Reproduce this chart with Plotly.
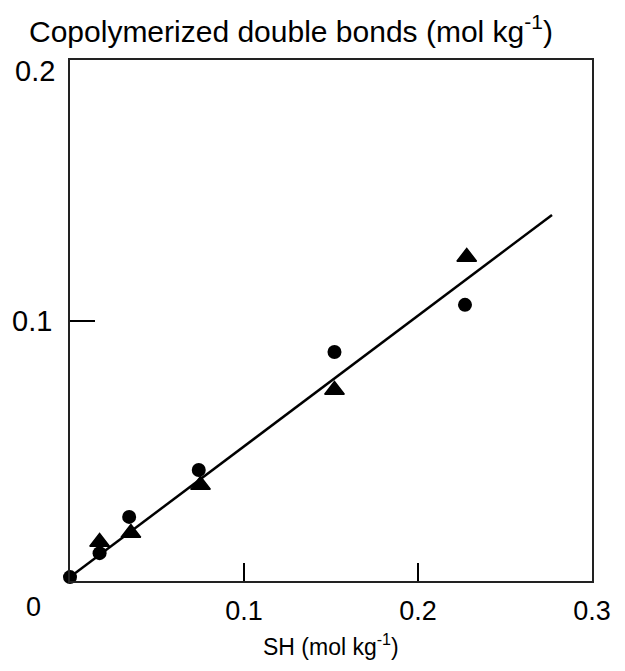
import plotly.graph_objects as go

# Thiol content (SH) and copolymerized double bonds, mol/kg
sh_circles = [0.0, 0.017, 0.034, 0.074, 0.152, 0.227]
db_circles = [0.0015, 0.0107, 0.0246, 0.0426, 0.0879, 0.1060]

sh_triangles = [0.017, 0.035, 0.075, 0.152, 0.228]
db_triangles = [0.0150, 0.0184, 0.0369, 0.0733, 0.1244]

# Fitted straight line
sh_fit = [0.0, 0.277]
db_fit = [0.0015, 0.1405]

x_ticks = [0.1, 0.2, 0.3]
x_tick_text = ["0.1", "0.2", "0.3"]
y_ticks = [0.1]
y_tick_text = ["0.1"]

FONT = "Liberation Sans, Arial, sans-serif"

fig = go.Figure()

fig.add_trace(go.Scatter(
    x=sh_fit, y=db_fit, mode="lines",
    line=dict(color="black", width=2.5),
    showlegend=False, cliponaxis=False,
))
fig.add_trace(go.Scatter(
    x=sh_circles, y=db_circles, mode="markers",
    marker=dict(symbol="circle", size=14, color="black"),
    showlegend=False, cliponaxis=False,
))
fig.add_trace(go.Scatter(
    x=sh_triangles, y=db_triangles, mode="markers",
    marker=dict(symbol="triangle-up", size=17, color="black",
                line=dict(color="black", width=1.5)),
    showlegend=False, cliponaxis=False,
))

fig.update_xaxes(
    range=[0, 0.3], showgrid=False, zeroline=False,
    showline=True, linecolor="#222", linewidth=1.5, mirror=True,
    ticks="inside", ticklen=18, tickwidth=1.5, tickcolor="black",
    tickvals=x_ticks, ticktext=x_tick_text,
    tickfont=dict(family=FONT, size=27, color="black"),
    ticklabelstandoff=5,
)
fig.update_yaxes(
    range=[0, 0.2], showgrid=False, zeroline=False,
    showline=True, linecolor="#222", linewidth=1.5, mirror=True,
    ticks="inside", ticklen=25, tickwidth=1.5, tickcolor="black",
    tickvals=y_ticks, ticktext=y_tick_text,
    tickfont=dict(family=FONT, size=29, color="black"),
    ticklabelstandoff=10,
)

annotations = [
    dict(text="Copolymerized double bonds (mol kg<sup>-1</sup>)",
         xref="paper", yref="paper", x=-0.083, y=1.06,
         xanchor="left", yanchor="middle", showarrow=False,
         font=dict(family=FONT, size=30, color="black")),
    dict(text="SH (mol kg<sup>-1</sup>)",
         xref="paper", yref="paper", x=0.5, y=-0.123,
         xanchor="center", yanchor="middle", showarrow=False,
         font=dict(family=FONT, size=23, color="black")),
    dict(text="0", xref="paper", yref="paper", x=-0.069, y=-0.05,
         xanchor="center", yanchor="middle", showarrow=False,
         font=dict(family=FONT, size=27, color="black")),
    dict(text="0.2", xref="paper", yref="paper", x=-0.025, y=0.978,
         xanchor="right", yanchor="middle", showarrow=False,
         font=dict(family=FONT, size=29, color="black")),
]

fig.update_layout(
    width=625, height=671,
    margin=dict(l=68, r=33, t=60, b=90),
    paper_bgcolor="white", plot_bgcolor="white",
    annotations=annotations,
)

fig.write_html("out.html")
